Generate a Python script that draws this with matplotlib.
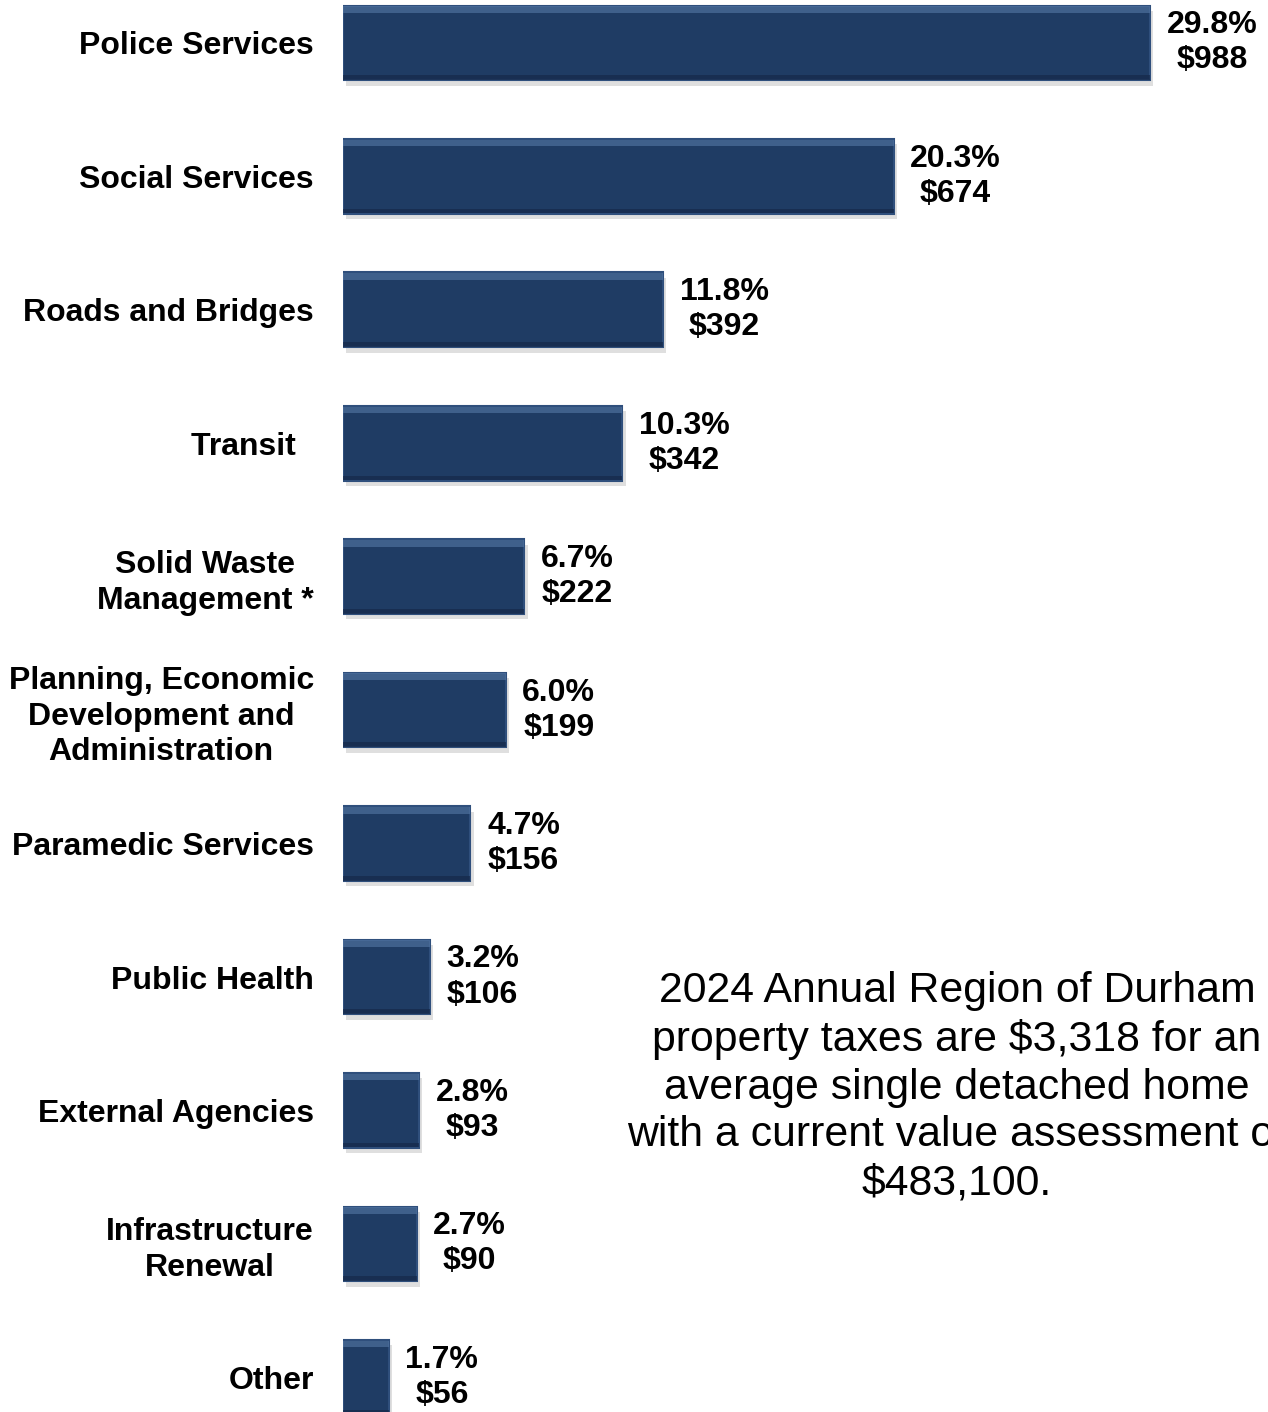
import matplotlib.pyplot as plt

plt.rcParams["font.family"] = ["Liberation Sans", "DejaVu Sans"]

# Data
categories = [
    "Police Services",
    "Social Services",
    "Roads and Bridges",
    "Transit  ",
    "Solid Waste\nManagement *",
    "Planning, Economic\nDevelopment and\nAdministration",
    "Paramedic Services",
    "Public Health",
    "External Agencies",
    "Infrastructure\nRenewal",
    "Other",
]
amounts = [988, 674, 392, 342, 222, 199, 156, 106, 93, 90, 56]
percents = [29.8, 20.3, 11.8, 10.3, 6.7, 6.0, 4.7, 3.2, 2.8, 2.7, 1.7]

note = ("2024 Annual Region of Durham\nproperty taxes are \\$3,318 for an\n"
        "average single detached home\nwith a current value assessment of\n\\$483,100.")

fig = plt.figure(figsize=(12.68, 14.12), dpi=100)
ax = fig.add_axes([343 / 1268, 0, 925 / 1268, 1])

pos = list(range(len(categories)))
h = 0.56

# soft shadow
ax.barh([p + 0.04 for p in pos], amounts, height=h, left=4,
        color="#b8b8b8", alpha=0.45, zorder=1)
# main bars
ax.barh(pos, amounts, height=h, color="#1f3c64",
        edgecolor="#2f4f7c", linewidth=1.5, zorder=2)
# bevel highlight on top and dark lower edge
ax.barh([p - h / 2 + 0.03 for p in pos], amounts, height=0.05,
        color="#5679a6", alpha=0.6, zorder=3)
ax.barh([p + h / 2 - 0.02 for p in pos], amounts, height=0.035,
        color="#16294a", alpha=0.7, zorder=3)

for p, a, pc in zip(pos, amounts, percents):
    ax.annotate(f"{pc:.1f}%\n${a}", xy=(a, p), xytext=(12, 0),
                textcoords="offset points", ha="left", va="center",
                multialignment="center", fontsize=23, fontweight="bold",
                linespacing=1.22)

ax.set_xlim(0, 1132.5)
ax.set_ylim(10.26, -0.322)
ax.set_yticks(pos)
ax.set_yticklabels(categories, fontsize=23, fontweight="bold",
                   multialignment="center", linespacing=1.25)
ax.tick_params(axis="y", length=0, pad=21)
ax.set_xticks([])
for s in ax.spines.values():
    s.set_visible(False)

# the reference lets this note run past the right edge
fig.text(957 / 1268, 1 - 1087 / 1412, note, ha="center", va="center",
         fontsize=30.8, linespacing=1.25)

fig.savefig("out.png", dpi=100)
